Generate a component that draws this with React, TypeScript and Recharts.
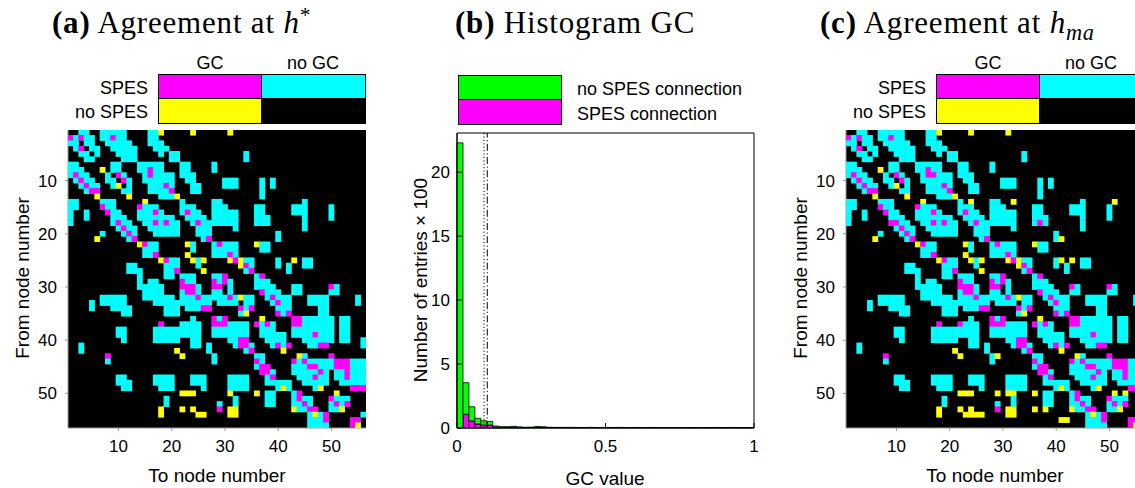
import React from 'react';
import { ScatterChart, Scatter, XAxis, YAxis, ReferenceArea, ComposedChart, Bar, ReferenceLine } from 'recharts';

const N = 56;
const PLOT = 298;
const CELL = PLOT / N;
const COLORS: Record<string, string> = { c: '#00ffff', m: '#ff00ff', y: '#ffff00' };
const SANS = '"Liberation Sans", Arial, sans-serif';
const SERIF = '"Liberation Serif", "Times New Roman", serif';

const nodeTicks = [10, 20, 30, 40, 50];

// Agreement matrix at h* : per row (From node), column ranges (To node, 0-based) and class
// c = SPES & no GC, m = SPES & GC, y = no SPES & GC, rest = neither (black)
const gridA: string[] = [
  '2-3c 6-10c 15-16c 17y 23y 30y',
  '0m 1c 2m 3-4c 6-7c 8m 9-10c 15-16c',
  '0-1c 3-4c 7-11c 15-17c',
  '1c 2m 4-5c 8-12c 16-18c',
  '2-3c 5c 9-12c 17c 19-20c 33c',
  '3-4c 10-12c 19-20c 33c',
  '0-1c 8-9c 13-17c 21-22c 27c',
  '0-2c 6y 8-9c 13-14c 15m 16-17c 21-22c 27c',
  '0c 1m 2-3c 7c 9m 10c 14c 15m 16-19c 21-23c',
  '1c 2m 3-4c 7-8c 10m 11c 14-19c 22-23c 29-31c 36c 38c',
  '2c 3m 4-5c 8c 9y 11c 15-17c 18m 19c 23-24c 29-31c 36c 38c',
  '3c 4-5m 10-11c 15-18c 19m 23-24c 36c',
  '5y 11y 17-19c 20y 36c',
  '0-1c 6-8c 14y 21c 27-28c 44c',
  '0-1c 6m 7-8c 13m 14-16c 21-23c 27-29c 35-36c 42-44c 49c',
  '0c 3c 7m 8-9c 13-15c 16m 17c 21c 22m 23-24c 27-31c 35-36c 42-44c 49c',
  '0c 3c 8-10c 13-19c 22-25c 27-31c 35-37c 44c 49c',
  '0c 8c 9m 10-11c 14-15c 16m 17c 18m 19-20c 23c 24m 25-26c 27-31c 35-37c 44c',
  '9c 10m 11-12c 15-20c 24-26c 31c 44c',
  '6c 10c 11m 12c 16-20c 24-26c 39c',
  '5y 11c 12m 25c 26m 39c',
  '13y 14m 15-16c 22y 23c 27c 28m 29-31c 35y 36-37c',
  '14-16c 23c 27-31c 36-37c',
  '14-15c 16m 22y 27-29c 30m 31c',
  '17y 18m 19-20c 23y 24c 25y 30y 31m 32y 33-34c 39c 42y 44-45c',
  '11-12c 18-20c 24c 32y 33m 34c 39c 41c 44-45c',
  '11-13c 18-19c 20m 25y 33c 34m 41c',
  '13c 18-19c 21-23c 27-28c 29m 35c 36m',
  '13c 15-16c 21m 22-23c 27m 28c 29m 30c 35-37c',
  '13-17c 21-23m 24c 27-28m 30c 35-38c 42-43c 49m 50c',
  '14-17c 21c 22-23m 24c 27-28c 30c 36m 37-39c 42-43c 49-50c',
  '6-10c 14-19c 21-23c 24m 25-26c 27-29c 30m 31c 32y 33-34c 37c 38m 39-41c 45-48c 54c',
  '4c 6-10c 16-26c 28-31c 33-34c 38c 39m 40-41c 45-48c 54c',
  '4c 8-11c 18-20c 22-24c 25-26m 32m 33c 34m 39-41c 47-48c',
  '10-11c 18-20c 32c 33y 39m 40c 41m 47-48c',
  '23c 27m 28c 29m 36y 42-43m 44-49c 51-52c',
  '17m 21-24c 27-29m 30-33c 35m 36c 37m 38c 42-43m 44-49c 51-52c',
  '9-10c 16-24c 27-33c 36-38c 42-49c 51-52c',
  '9-10c 16-24c 27-33c 36-40c 42-45c 46m 47-49c 51-52c',
  '10c 16-20c 23-24c 30-31c 32-33m 37-40c 44-49c 51-52c 55c',
  '2c 23-24c 26c 31c 32-33m 34c 38c 39m 40c 41m 45-46c 47-48m 55c',
  '2c 20y 26c 33c 34m 40y',
  '7m 21y 27c 35-36c 43y 44c 49m',
  '7c 27c 35m 36c 42m 43c 44m 45-49c 50-52m 53-55c',
  '35c 36-37m 42-44c 45-46m 47-49c 50-52m 53-55c',
  '36-37m 38c 42-46c 47m 48c 50-51c 52m 53-55c',
  '9-10c 16-19c 23-25c 30-33c 37c 38m 43-45c 46m 47-48c 50-51c 52m 53-55c',
  '9-11c 16-19c 23-25c 30-33c 37-41c 44-48c 51-55c',
  '10-11c 17-19c 25c 30-33c 39c 40y 41c 46c 47y 53-55m',
  '21-23y 30y 35y 37-38c 42c 43m 50y',
  '18c 31c 37-38c 42c 43m 44-45c 49m 50-52c',
  '18c 28c 31c 37-38c 42-43c 44m 45c 49c 50m 51c 52m',
  '17y 21y 23y 28m 30-31y 42y 43-44c 45-46m 49-50c 51y',
  '17y 24-25y 30-31y 45c 46y 47c 48m 55c',
  '45-47c 48m 53-54m',
  '45-48c 53m 54y',
];

// Agreement at h_ma: differences from the h* matrix
const diffC: [number, string][] = [
  [8, '16m'],
  [13, '23y 31y 50y'],
  [17, '8m 36m'],
  [20, '40y'],
  [24, '40y'],
  [29, '42m'],
  [36, '21m'],
  [42, '28y'],
  [49, '28y 31y 52y'],
  [52, '35y 37y'],
  [53, '22-23y'],
  [54, '40-41y'],
];

// Histogram of GC values, bins of width 0.02 (counts x 100)
const gcTicks = [0, 0.5, 1];
const countTicks = [0, 5, 10, 15, 20];
const binSpes = [
  0, 1.07, 0.55, 0.31, 0.23, 0.23, 0.07, 0.05, 0.05, 0.06,
  0.04, 0.03, 0.03, 0.05, 0.04, 0.02, 0.02, 0.02, 0.01, 0.02,
  0.01, 0.01, 0.02, 0.01, 0.01, 0.01, 0.01, 0.02, 0.01, 0.01,
  0.01, 0.01, 0.01, 0.01, 0.01, 0.01, 0.01, 0.01, 0.01, 0.01,
  0.01, 0.01, 0.01, 0.01, 0.01, 0.01, 0.01, 0.01, 0.01, 0.01,
];
const binNoSpes = [
  22.3, 2.47, 1.11, 0.45, 0.34, 0.29, 0.09, 0.05, 0.05, 0.07,
  0.05, 0.03, 0.04, 0.07, 0.06, 0.04, 0.03, 0.03, 0.04, 0.03,
  0.03, 0.03, 0.03, 0.03, 0.02, 0.03, 0.03, 0.03, 0.02, 0.03,
  0.03, 0.02, 0.03, 0.03, 0.02, 0.03, 0.02, 0.03, 0.02, 0.02,
  0.03, 0.02, 0.02, 0.03, 0.02, 0.02, 0.03, 0.02, 0.02, 0.02,
];
const countMax = 23.07;
const gcDotted = 0.091;
const gcDashDot = 0.102;

type Cell = { x: number; y: number; k: string };

function parseRow(spec: string): string[] {
  const row: string[] = new Array(N).fill('.');
  spec.split(/\s+/).filter(Boolean).forEach((tok) => {
    const m = tok.match(/^(\d+)(?:-(\d+))?([cmy])$/);
    if (!m) return;
    const a = +m[1];
    const b = m[2] ? +m[2] : a;
    for (let i = a; i <= b; i++) if (i < N) row[i] = m[3];
  });
  return row;
}

function toCells(rows: string[]): Cell[] {
  const out: Cell[] = [];
  rows.forEach((spec, r) => {
    parseRow(spec).forEach((k, c) => {
      if (k !== '.') out.push({ x: c + 1, y: r + 1, k });
    });
  });
  return out;
}

const cellsA = toCells(gridA);
const rowsC = gridA.map((s, i) =>
  diffC.filter((d) => d[0] === i).reduce((acc, d) => acc + ' ' + d[1], s)
);
const cellsC = toCells(rowsC);

const histData = binSpes.map((s, i) => ({
  bin: i,
  center: (i + 0.5) * 0.02,
  spes: s,
  noSpes: binNoSpes[i],
}));

const CellShape = (props: any) => {
  const { cx, cy, payload } = props;
  if (cx == null || cy == null || !payload) return null;
  return (
    <rect
      x={cx - CELL / 2 - 0.25}
      y={cy - CELL / 2 - 0.25}
      width={CELL + 0.5}
      height={CELL + 0.5}
      fill={COLORS[payload.k]}
    />
  );
};

const tickStyle = { fill: '#000', fontSize: 17, fontFamily: SANS };

function Txt({ x, y, children, anchor = 'start', size = 18, rotate = false, font = SANS }: any) {
  const tx = anchor === 'start' ? '0' : anchor === 'middle' ? '-50%' : '-100%';
  return (
    <div
      style={{
        position: 'absolute',
        left: x,
        top: y,
        fontFamily: font,
        fontSize: size,
        lineHeight: 1,
        whiteSpace: 'nowrap',
        color: '#000',
        transform: rotate ? 'translate(-50%,-50%) rotate(-90deg)' : `translate(${tx},-50%)`,
      }}
    >
      {children}
    </div>
  );
}

function MatrixPanel({ cells, ox }: { cells: Cell[]; ox: number }) {
  return (
    <>
      <div style={{ position: 'absolute', left: ox, top: 0 }}>
        <ScatterChart width={380} height={488} margin={{ top: 130, right: 14, bottom: 30, left: 8 }}>
          <XAxis
            type="number"
            dataKey="x"
            domain={[0.5, 56.5]}
            ticks={nodeTicks}
            interval={0}
            allowDataOverflow
            height={30}
            tickSize={3}
            tickMargin={9}
            axisLine={{ stroke: '#999' }}
            tickLine={{ stroke: '#999' }}
            tick={tickStyle}
          />
          <YAxis
            type="number"
            dataKey="y"
            domain={[0.5, 56.5]}
            reversed
            ticks={nodeTicks}
            interval={0}
            allowDataOverflow
            width={60}
            tickSize={3}
            tickMargin={8}
            axisLine={{ stroke: '#999' }}
            tickLine={{ stroke: '#999' }}
            tick={tickStyle}
          />
          <ReferenceArea x1={0.5} x2={56.5} y1={0.5} y2={56.5} fill="#000" fillOpacity={1} stroke="none" ifOverflow="visible" />
          <Scatter data={cells} shape={CellShape} isAnimationActive={false} />
        </ScatterChart>
      </div>
      {/* legend */}
      <div style={{ position: 'absolute', left: ox + 158, top: 74, width: 104, height: 25, background: '#ff00ff', border: '1px solid #000', boxSizing: 'border-box' }} />
      <div style={{ position: 'absolute', left: ox + 261, top: 74, width: 105, height: 25, background: '#00ffff', border: '1px solid #000', boxSizing: 'border-box' }} />
      <div style={{ position: 'absolute', left: ox + 158, top: 98, width: 104, height: 26, background: '#ffff00', border: '1px solid #000', boxSizing: 'border-box' }} />
      <div style={{ position: 'absolute', left: ox + 261, top: 98, width: 105, height: 26, background: '#000', border: '1px solid #000', boxSizing: 'border-box' }} />
      <Txt x={ox + 210} y={63} anchor="middle">GC</Txt>
      <Txt x={ox + 313} y={63} anchor="middle">no GC</Txt>
      <Txt x={ox + 148} y={88} anchor="end">SPES</Txt>
      <Txt x={ox + 148} y={112} anchor="end">no SPES</Txt>
      <Txt x={ox + 22} y={278} rotate size={19}>From node number</Txt>
      <Txt x={ox + 217} y={475} anchor="middle" size={19}>To node number</Txt>
    </>
  );
}

function HistPanel() {
  return (
    <>
      <div style={{ position: 'absolute', left: 380, top: 0 }}>
        <ComposedChart
          width={400}
          height={488}
          data={histData}
          margin={{ top: 133, right: 26, bottom: 30, left: 17 }}
          barCategoryGap={0}
          barGap={0}
        >
          <XAxis xAxisId="num" type="number" dataKey="center" domain={[0, 1]} ticks={gcTicks} interval={0}
            allowDataOverflow height={30} tickSize={-5} tickMargin={17}
            axisLine={{ stroke: '#000' }} tickLine={{ stroke: '#000' }} tick={tickStyle} />
          <XAxis xAxisId="cat" dataKey="bin" hide height={0} />
          <XAxis xAxisId="top" orientation="top" type="number" dataKey="center" domain={[0, 1]} ticks={gcTicks}
            interval={0} allowDataOverflow height={0} tick={false} tickSize={-5}
            axisLine={{ stroke: '#000' }} tickLine={{ stroke: '#000' }} />
          <YAxis yAxisId="l" type="number" domain={[0, countMax]} ticks={countTicks} interval={0} allowDataOverflow
            width={60} tickSize={-5} tickMargin={12}
            axisLine={{ stroke: '#000' }} tickLine={{ stroke: '#000' }} tick={tickStyle} />
          <YAxis yAxisId="r" orientation="right" type="number" domain={[0, countMax]} ticks={countTicks} interval={0}
            allowDataOverflow width={0} tick={false} tickSize={-5}
            axisLine={{ stroke: '#000' }} tickLine={{ stroke: '#000' }} />
          <Bar xAxisId="cat" yAxisId="l" dataKey="spes" stackId="h" fill="#ff00ff" stroke="#000" strokeWidth={0.8} isAnimationActive={false} />
          <Bar xAxisId="cat" yAxisId="l" dataKey="noSpes" stackId="h" fill="#00ff00" stroke="#000" strokeWidth={0.8} isAnimationActive={false} />
          <ReferenceLine xAxisId="top" yAxisId="r" x={gcDotted} stroke="#000" strokeWidth={1} strokeDasharray="1.2 2.2" />
          <ReferenceLine xAxisId="num" yAxisId="l" x={gcDashDot} stroke="#000" strokeWidth={1} strokeDasharray="7 2.5 1.2 2.5" />
          <ReferenceArea xAxisId="num" yAxisId="l" x1={0} x2={1} y1={0} y2={countMax} fill="none" stroke="#000" strokeWidth={1} ifOverflow="visible" />
        </ComposedChart>
      </div>
      <div style={{ position: 'absolute', left: 458, top: 75, width: 104, height: 25, background: '#00ff00', border: '1px solid #000', boxSizing: 'border-box' }} />
      <div style={{ position: 'absolute', left: 458, top: 99, width: 104, height: 26, background: '#ff00ff', border: '1px solid #000', boxSizing: 'border-box' }} />
      <Txt x={577} y={89}>no SPES connection</Txt>
      <Txt x={577} y={114}>SPES connection</Txt>
      <Txt x={420} y={280} rotate size={19}>Number of entries × 100</Txt>
      <Txt x={605} y={478} anchor="middle" size={19}>GC value</Txt>
    </>
  );
}

const titleStyle: React.CSSProperties = {
  position: 'absolute',
  top: 7,
  fontFamily: SERIF,
  fontSize: 31,
  letterSpacing: 0.8,
  lineHeight: 1,
  whiteSpace: 'nowrap',
  color: '#000',
};

export default function App() {
  return (
    <div style={{ position: 'absolute', left: 0, top: 0, width: 1135, height: 488, overflow: 'hidden', background: '#fff' }}>
      <div style={{ ...titleStyle, left: 52 }}>
        <b>(a)</b> Agreement at <i>h</i>
        <span style={{ fontSize: '0.7em', position: 'relative', top: '-0.5em' }}>*</span>
      </div>
      <div style={{ ...titleStyle, left: 455 }}>
        <b>(b)</b> Histogram GC
      </div>
      <div style={{ ...titleStyle, left: 820 }}>
        <b>(c)</b> Agreement at <i>h</i>
        <span style={{ fontSize: '0.72em', position: 'relative', top: '0.3em' }}>
          <i>ma</i>
        </span>
      </div>
      <MatrixPanel cells={cellsA} ox={0} />
      <HistPanel />
      <MatrixPanel cells={cellsC} ox={778} />
    </div>
  );
}
